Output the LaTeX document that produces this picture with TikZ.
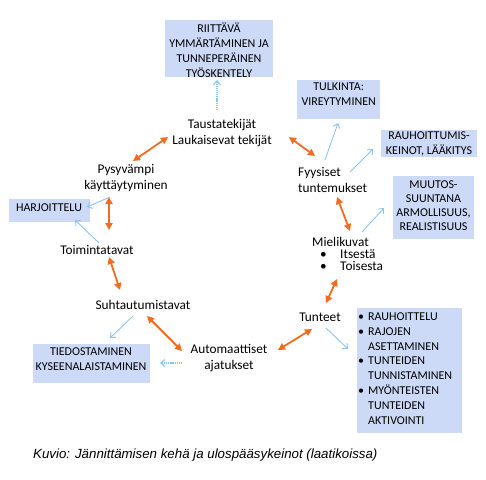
\documentclass[tikz,border=0pt]{standalone}
\usepackage{fontspec}
\setmainfont{Carlito}
\newfontfamily\capfont{Liberation Sans}
\usetikzlibrary{arrows.meta}
\definecolor{orng}{RGB}{242,108,32}
\definecolor{lblue}{RGB}{141,196,242}
\definecolor{boxfill}{RGB}{204,218,248}
\begin{document}
\begin{tikzpicture}[x=1pt,y=-1pt,
 lbl/.style={font=\fontsize{13.3}{16}\selectfont, align=center, inner sep=0pt},
 boxshape/.style={fill=boxfill, inner sep=0pt},
 boxtxt/.style={font=\fontsize{12}{15}\selectfont, align=center, inner sep=0pt},
 oarr/.style={draw=orng, line width=1.8pt, {Triangle[length=7pt,width=7pt]}-{Triangle[length=7pt,width=7pt]}},
 barr/.style={draw=lblue, line width=0.9pt, -{Straight Barb[length=4pt,width=7pt]}},
 dotarr/.style={barr, line width=1.1pt, dash pattern=on 1.2pt off 0.9pt}]
\useasboundingbox (0,0) rectangle (486,479);
\fill[white] (0,0) rectangle (486,479);

% boxes
\node[boxshape, minimum width=108pt, minimum height=57pt] (riit) at (219,48.5) {};
\node[boxtxt] (riitt) at (219,50) {RIITTÄVÄ\\YMMÄRTÄMINEN JA\\TUNNEPERÄINEN\\TYÖSKENTELY};
\node[boxshape, minimum width=83pt, minimum height=39pt] (tulk) at (338.5,99.5) {};
\node[boxtxt] (tulkt) at (338.7,94.5) {TULKINTA:\\VIREYTYMINEN};
\node[boxshape, minimum width=96pt, minimum height=27pt] (rauh) at (429,143.5) {};
\node[boxtxt] (rauht) at (429,144) {RAUHOITTUMIS-\\KEINOT, LÄÄKITYS};
\node[boxshape, minimum width=81pt, minimum height=63pt] (muut) at (433.5,207) {};
\node[boxtxt, font=\fontsize{12}{14}\selectfont] (muutt) at (433.5,206) {MUUTOS-\\SUUNTANA\\ARMOLLISUUS,\\REALISTISUUS};
\node[boxshape, minimum width=105pt, minimum height=125pt] (bull) at (409.5,370.5) {};
\node[boxtxt, align=left, anchor=west, font=\fontsize{12}{14.8}\selectfont] (bullt) at (358,368.5)
 {\makebox[10pt][l]{•}RAUHOITTELU\\
  \makebox[10pt][l]{•}RAJOJEN\\\hspace*{10pt}ASETTAMINEN\\
  \makebox[10pt][l]{•}TUNTEIDEN\\\hspace*{10pt}TUNNISTAMINEN\\
  \makebox[10pt][l]{•}MYÖNTEISTEN\\\hspace*{10pt}TUNTEIDEN\\\hspace*{10pt}AKTIVOINTI};
\node[boxshape, minimum width=117pt, minimum height=39pt] (tied) at (91.5,363.5) {};
\node[boxtxt] (tiedt) at (91,359) {TIEDOSTAMINEN\\KYSEENALAISTAMINEN};
\node[boxshape, minimum width=81pt, minimum height=23pt] (harj) at (49.5,210.5) {};
\node[boxtxt] (harjt) at (49,208) {HARJOITTELU};

% labels
\node[lbl] (pys) at (126,178) {Pysyvämpi\\käyttäytyminen};
\node[lbl] (taus) at (222,133) {Taustatekijät\\Laukaisevat tekijät};
\node[lbl, align=left, anchor=west] (fyy) at (298,180) {Fyysiset\\tuntemukset};
\node[lbl, align=left, anchor=north west, font=\fontsize{13.3}{12}\selectfont] (miel) at (312,237)
 {Mielikuvat\\\hspace*{8pt}\makebox[20pt][l]{•}Itsestä\\\hspace*{8pt}\makebox[20pt][l]{•}Toisesta};
\node[lbl] (tun) at (320,317) {Tunteet};
\node[lbl] (auto) at (229,358.5) {Automaattiset\\ajatukset};
\node[lbl] (suht) at (143,305) {Suhtautumistavat};
\node[lbl] (toim) at (97,250) {Toimintatavat};

% orange cycle
\draw[oarr] ([shift={(7,-17)}]pys.center) -- ([shift={(-54,4)}]taus.center);
\draw[oarr] ([shift={(67,4)}]taus.center) -- ([shift={(17,-24)}]fyy.west);
\draw[oarr] ([shift={(39,17)}]fyy.west) -- ([shift={(38,-6)}]miel.north west);
\draw[oarr] ([shift={(25,42)}]miel.north west) -- ([shift={(6,-14)}]tun.center);
\draw[oarr] ([shift={(-8,12)}]tun.center) -- ([shift={(49,-8.5)}]auto.center);
\draw[oarr] ([shift={(-47,-7.5)}]auto.center) -- ([shift={(4,11)}]suht.center);
\draw[oarr] ([shift={(-23,-15)}]suht.center) -- ([shift={(12,7)}]toim.center);
\draw[oarr] ([shift={(12,-20)}]toim.center) -- ([shift={(-17,19)}]pys.center);

% blue exits
\draw[dotarr] ([shift={(-5,-23)}]taus.center) -- ([shift={(-2,31.5)}]riit.center);
\draw[barr] ([shift={(27,-20)}]fyy.west) -- ([shift={(-0.5,23.5)}]tulk.center);
\draw[barr] ([shift={(52,-8)}]fyy.west) -- ([shift={(-56,5.5)}]rauh.center);
\draw[barr] ([shift={(50,-5)}]miel.north west) -- ([shift={(-49.5,1)}]muut.center);
\draw[barr] ([shift={(6,11)}]tun.center) -- ([shift={(-61.5,-21.5)}]bull.center);
\draw[dotarr] ([shift={(-47,4.5)}]auto.center) -- ([shift={(68.5,-0.5)}]tied.center);
\draw[barr] ([shift={(-10,11)}]suht.center) -- ([shift={(18.5,-25.5)}]tied.center);
\draw[barr] ([shift={(2,-7)}]toim.center) -- ([shift={(25.5,9.5)}]harj.center);
\draw[barr] ([shift={(-16,19)}]pys.center) -- ([shift={(37.5,-3.5)}]harj.center);

% caption
\node[font=\capfont\itshape\fontsize{13.3}{16}\selectfont, anchor=west, inner sep=0pt] (cap) at (33,455)
 {Kuvio: Jännittämisen kehä ja ulospääsykeinot (laatikoissa)};
\end{tikzpicture}
\end{document}
